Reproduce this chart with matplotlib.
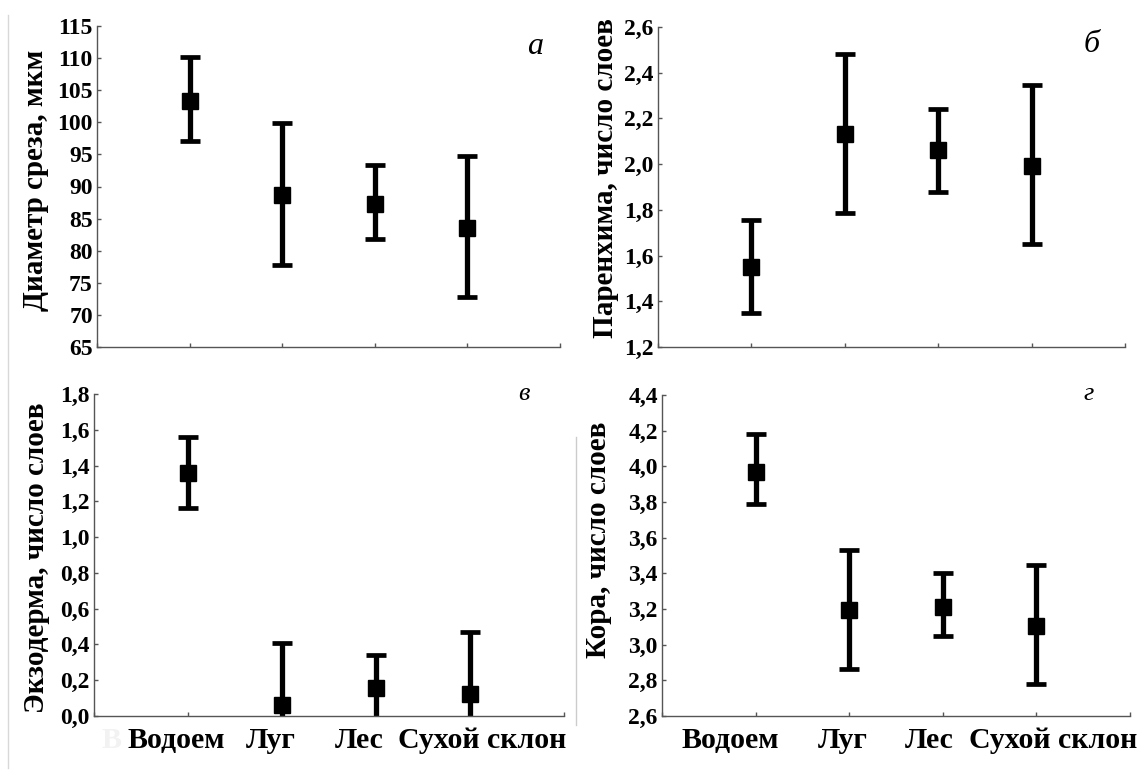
import matplotlib
matplotlib.use("Agg")
import matplotlib.pyplot as plt
import matplotlib.transforms as mtransforms
from matplotlib.lines import Line2D

plt.rcParams["font.family"] = ["Liberation Serif", "DejaVu Serif"]

# местообитания
SITES = ["Водоем", "Луг", "Лес", "Сухой склон"]

# а - диаметр среза, мкм
diam_mean = [103.3, 88.6, 87.3, 83.6]
diam_lo = [97.1, 77.8, 81.8, 72.8]
diam_hi = [110.1, 99.9, 93.4, 94.8]

# б - паренхима, число слоев
par_mean = [1.55, 2.13, 2.06, 1.99]
par_lo = [1.35, 1.785, 1.878, 1.651]
par_hi = [1.757, 2.483, 2.241, 2.346]

# в - экзодерма, число слоев (нижние границы уходят под ноль)
exo_mean = [1.36, 0.06, 0.158, 0.125]
exo_lo = [1.165, -0.29, -0.024, -0.22]
exo_hi = [1.562, 0.409, 0.34, 0.47]

# г - кора, число слоев
cor_mean = [3.971, 3.193, 3.214, 3.107]
cor_lo = [3.788, 2.866, 3.047, 2.777]
cor_hi = [4.18, 3.532, 3.402, 3.445]

W, H = 1146, 781
BOLD = dict(family=["Liberation Serif", "DejaVu Serif"], weight="bold")


def px_box(x0, y0, x1, y1):
    # прямоугольник в пикселях -> доли фигуры
    return [x0 / W, 1 - y1 / H, (x1 - x0) / W, (y1 - y0) / H]


def fmt_tick(v, step):
    if step >= 1:
        return f"{v:.0f}"
    return f"{v:.1f}".replace(".", ",")


def panel(fig, box, mean, lo, hi, ylim, step, ylabel, ylabel_xy, letter,
          letter_xy, letter_size, xlabels=False, nudges=None):
    ax = fig.add_axes(px_box(*box))
    x = list(range(1, len(mean) + 1))
    err = [[m - l for m, l in zip(mean, lo)], [h - m for m, h in zip(mean, hi)]]
    ax.errorbar(x, mean, yerr=err, fmt="s", color="black", ms=12,
                elinewidth=3.8, capsize=7, capthick=3.4)
    ax.set_xlim(0, 5)
    ax.set_ylim(*ylim)
    n = round((ylim[1] - ylim[0]) / step)
    yt = [ylim[0] + i * step for i in range(n + 1)]
    ax.set_yticks(yt)
    ax.set_yticklabels([fmt_tick(v, step) for v in yt], fontsize=17, **BOLD)
    ax.set_xticks(range(0, 6))
    for s in ("top", "right"):
        ax.spines[s].set_visible(False)
    for s in ("left", "bottom"):
        ax.spines[s].set_color("#555555")
        ax.spines[s].set_linewidth(1.0)
    ax.tick_params(direction="in", length=3, width=1, color="#555555", pad=3)
    if xlabels:
        ax.set_xticklabels([""] + SITES + [""], fontsize=21.5, **BOLD)
        ax.tick_params(axis="x", pad=8)
        for lab, dx in zip(ax.get_xticklabels()[1:5], nudges):
            lab.set_transform(lab.get_transform() +
                              mtransforms.ScaledTranslation(dx / 100, 0, fig.dpi_scale_trans))
    else:
        ax.set_xticklabels([])
    fig.text(ylabel_xy[0] / W, 1 - ylabel_xy[1] / H, ylabel, rotation=90,
             ha="center", va="center", fontsize=21, **BOLD)
    fig.text(letter_xy[0] / W, 1 - letter_xy[1] / H, letter, ha="center",
             va="center", fontsize=letter_size, style="italic",
             family=["Liberation Serif", "DejaVu Serif"])
    return ax


fig = plt.figure(figsize=(W / 100, H / 100), dpi=100)

panel(fig, (97, 26, 560, 347), diam_mean, diam_lo, diam_hi, (65, 115), 5,
      "Диаметр среза, мкм", (36, 180), "а", (535, 47), 23)
panel(fig, (658, 27, 1125, 347), par_mean, par_lo, par_hi, (1.2, 2.6), 0.2,
      "Паренхима, число слоев", (606, 178), "б", (1092, 45), 23)
panel(fig, (94, 394, 564, 716), exo_mean, exo_lo, exo_hi, (0.0, 1.8), 0.2,
      "Экзодерма, число слоев", (37, 558), "в", (524, 394), 19,
      xlabels=True, nudges=[-12, -11, -17, 12])
panel(fig, (662, 395, 1130, 716), cor_mean, cor_lo, cor_hi, (2.6, 4.4), 0.2,
      "Кора, число слоев", (598, 540), "г", (1089, 394), 19,
      xlabels=True, nudges=[-25, -6, -14, 17])

# тонкие серые полосы по краям скана
fig.add_artist(Line2D([8 / W, 8 / W], [1 - 15 / H, 1 - 768 / H],
                      color="#d8d8d8", lw=1))
fig.add_artist(Line2D([576 / W, 576 / W], [1 - 437 / H, 1 - 725 / H],
                      color="#cccccc", lw=1))
fig.text(112 / W, 1 - 741 / H, "В", ha="center", va="center", fontsize=21.5,
         color="#f2f2f2", **BOLD)

fig.savefig("out.png", dpi=100, facecolor="white")
